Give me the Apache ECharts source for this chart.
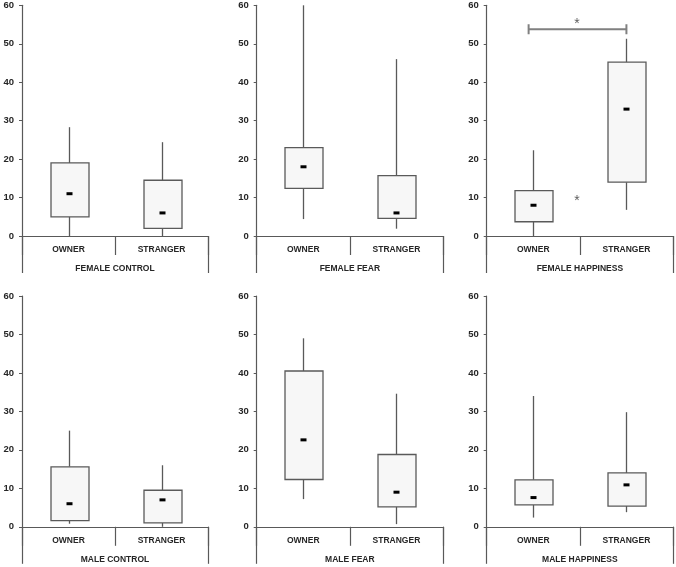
<!DOCTYPE html>
<html>
<head>
<meta charset="utf-8">
<script src="https://cdn.jsdelivr.net/npm/echarts@6/dist/echarts.min.js"></script>
<style>
html,body{margin:0;padding:0;background:#fff;}
#c{width:676px;height:567px;}
</style>
</head>
<body>
<div id="c"></div>
<script>
// ---- data ----
const categories = ['OWNER', 'STRANGER'];
const panelTitles = ['FEMALE CONTROL', 'FEMALE FEAR', 'FEMALE HAPPINESS', 'MALE CONTROL', 'MALE FEAR', 'MALE HAPPINESS'];
const yMin = 0, yMax = 60, yStep = 10;
// each box: [min, q1, median, q3, max]
const femaleControl   = [[0, 5, 11, 19, 28.3], [0, 2, 6, 14.5, 24.4]];
const femaleFear      = [[4.4, 12.4, 18, 23, 60], [1.9, 4.6, 6, 15.7, 46]];
const femaleHappiness = [[0, 3.7, 8, 11.8, 22.3], [6.8, 14, 33, 45.2, 51.3]];
const maleControl     = [[0.8, 1.6, 6, 15.6, 25], [0, 1, 7, 9.5, 16]];
const maleFear        = [[7.2, 12.3, 22.6, 40.5, 49], [0.7, 5.2, 9, 18.8, 34.6]];
const maleHappiness   = [[2.4, 5.7, 7.6, 12.2, 34], [3.8, 5.4, 10.9, 14, 29.8]];
const panelData = [femaleControl, femaleFear, femaleHappiness, maleControl, maleFear, maleHappiness];
// significance bracket (female happiness panel), x in category units
const sigPanel = 2;
const sigBracketX = [-0.05, 1.0];
const sigBracketY = 53.8;
const sigCapHalf = 1.3;
const sigStars = [[0.47, 55.0], [0.47, 9.1]];

// ---- layout ----
const gridBoxes = [
  {left: 22, top: 5.3, width: 186, height: 230.7},
  {left: 256.7, top: 5.3, width: 186.3, height: 230.7},
  {left: 486.7, top: 5.3, width: 186.3, height: 230.7},
  {left: 22, top: 296, width: 186, height: 230.8},
  {left: 256.7, top: 296, width: 186.3, height: 230.8},
  {left: 486.7, top: 296, width: 186.3, height: 230.8}
];
const AX = '#595959';
const TXT = '#262626';
const FONT = 'Liberation Sans';

const grids = [], xAxes = [], yAxes = [], series = [];
function renderBox(params, api) {
  const c = api.value(0);
  const pMin = api.coord([c, api.value(1)]);
  const pQ1 = api.coord([c, api.value(2)]);
  const pMed = api.coord([c, api.value(3)]);
  const pQ3 = api.coord([c, api.value(4)]);
  const pMax = api.coord([c, api.value(5)]);
  const cx = Math.round(pMin[0]) + 0.5;
  const bw = Math.round(api.size([1, 0])[0] * 0.41);
  const lineStyle = {stroke: '#595959', lineWidth: 1.3};
  return {type: 'group', children: [
    {type: 'line', shape: {x1: cx, y1: pMax[1], x2: cx, y2: pQ3[1]}, style: lineStyle},
    {type: 'line', shape: {x1: cx, y1: pQ1[1], x2: cx, y2: pMin[1]}, style: lineStyle},
    {type: 'rect', shape: {x: Math.round(cx - bw / 2), y: pQ3[1], width: bw, height: pQ1[1] - pQ3[1]},
      style: {fill: '#f7f7f7', stroke: '#5a5a5a', lineWidth: 1.3}},
    {type: 'rect', shape: {x: cx - 3, y: pMed[1] - 1.5, width: 6, height: 3}, style: {fill: '#000'}}
  ]};
}

panelData.forEach((boxes, i) => {
  grids.push(Object.assign({containLabel: false}, gridBoxes[i]));
  const xBase = xAxes.length;
  xAxes.push({
    type: 'category', gridIndex: i, data: categories, position: 'bottom',
    axisLine: {show: true, onZero: false, lineStyle: {color: AX, width: 1.2}},
    axisTick: {show: true, length: 19, interval: 0, alignWithLabel: false, lineStyle: {color: AX, width: 1.2}},
    axisLabel: {margin: 9, fontFamily: FONT, fontWeight: 'bold', fontSize: 8.5, color: TXT, interval: 0},
    splitLine: {show: false}
  });
  xAxes.push({
    type: 'category', gridIndex: i, data: [panelTitles[i]], position: 'bottom',
    axisLine: {show: false, onZero: false},
    axisTick: {show: true, length: 37, interval: 0, alignWithLabel: false, lineStyle: {color: AX, width: 1.2}},
    axisLabel: {margin: 28, fontFamily: FONT, fontWeight: 'bold', fontSize: 8.5, color: TXT},
    splitLine: {show: false}
  });
  let valX = null;
  if (i === sigPanel) {
    valX = xAxes.length;
    xAxes.push({type: 'value', gridIndex: i, min: -0.5, max: 1.5, show: false,
      axisLine: {onZero: false}, splitLine: {show: false}});
  }
  yAxes.push({
    type: 'value', gridIndex: i, min: yMin, max: yMax, interval: yStep, position: 'left',
    axisLine: {show: true, onZero: false, lineStyle: {color: AX, width: 1.2}},
    axisTick: {show: true, length: 3, lineStyle: {color: AX}},
    axisLabel: {margin: 8, fontFamily: FONT, fontWeight: 'bold', fontSize: 9.5, color: TXT},
    splitLine: {show: false}
  });
  series.push({
    type: 'custom', xAxisIndex: xBase, yAxisIndex: i,
    renderItem: renderBox,
    encode: {x: 0, y: [1, 2, 3, 4, 5]},
    data: boxes.map((b, k) => [k].concat(b)),
    silent: true
  });
  if (valX !== null) {
    const [xa, xb] = sigBracketX;
    series.push({
      type: 'line', xAxisIndex: valX, yAxisIndex: i, showSymbol: false, silent: true,
      lineStyle: {color: '#808080', width: 2},
      data: [[xa, sigBracketY - sigCapHalf], [xa, sigBracketY + sigCapHalf], [xa, sigBracketY],
             [xb, sigBracketY], [xb, sigBracketY + sigCapHalf], [xb, sigBracketY - sigCapHalf]]
    });
    series.push({
      type: 'scatter', xAxisIndex: valX, yAxisIndex: i, symbolSize: 0, silent: true,
      data: sigStars,
      label: {show: true, position: 'inside', formatter: '*', fontFamily: FONT, fontSize: 14, color: '#333333'}
    });
  }
});

const chart = echarts.init(document.getElementById('c'), null, {renderer: 'canvas'});
chart.setOption({
  animation: false,
  backgroundColor: '#ffffff',
  grid: grids,
  xAxis: xAxes,
  yAxis: yAxes,
  series: series
});
</script>
</body>
</html>
